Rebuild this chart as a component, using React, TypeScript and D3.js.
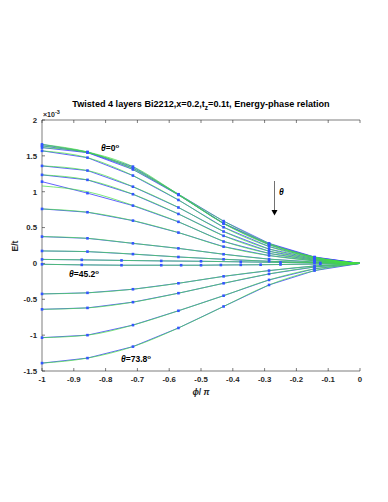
import React from "react";
import * as d3 from "d3";

const phi7 = [-1, -0.857, -0.714, -0.571, -0.429, -0.286, -0.143, 0];
const phi8 = [-1, -0.875, -0.75, -0.625, -0.5, -0.375, -0.25, -0.125, 0];
const phi16 = [-1, -0.875, -0.75, -0.625, -0.5625, -0.5, -0.4375, -0.375, -0.3125, -0.25, -0.125, 0];

const e00 = [1.66, 1.555, 1.35, 0.965, 0.59, 0.28, 0.09, 0];
const e01 = [1.64, 1.55, 1.33, 0.96, 0.56, 0.27, 0.085, 0];
const e02 = [1.615, 1.545, 1.31, 0.955, 0.555, 0.26, 0.08, 0];
const e03 = [1.57, 1.475, 1.225, 0.885, 0.505, 0.235, 0.075, 0];
const e04 = [1.36, 1.295, 1.07, 0.78, 0.445, 0.2, 0.065, 0];
const e05 = [1.235, 1.165, 0.965, 0.69, 0.385, 0.17, 0.055, 0];
const e06 = [1.14, 0.98, 0.806, 0.58, 0.305, 0.14, 0.045, 0];
const e06fit = [1.08, 1.0, 0.81, 0.58, 0.31, 0.14, 0.045, 0];
const e07 = [0.76, 0.714, 0.597, 0.43, 0.234, 0.11, 0.035, 0];
const e08 = [0.374, 0.35, 0.28, 0.21, 0.128, 0.06, 0.02, 0];
const e09 = [0.174, 0.165, 0.13, 0.09, 0.058, 0.03, 0.01, 0];
const e10 = [0.056, 0.05, 0.042, 0.035, 0.03, 0.022, 0.014, 0.006, 0];
const e11 = [-0.012, -0.02, -0.025, -0.025, -0.025, -0.025, -0.022, -0.02, -0.018, -0.015, -0.008, 0];
const e12 = [-0.425, -0.41, -0.36, -0.277, -0.18, -0.1, -0.035, 0];
const e13 = [-0.64, -0.62, -0.54, -0.415, -0.277, -0.146, -0.05, 0];
const e14 = [-1.035, -1.0, -0.86, -0.66, -0.45, -0.23, -0.075, 0];
const e15 = [-1.39, -1.32, -1.16, -0.9, -0.6, -0.3, -0.1, 0];

const xTicks = [-1, -0.9, -0.8, -0.7, -0.6, -0.5, -0.4, -0.3, -0.2, -0.1, 0];
const xTickLabels = ["-1", "-0.9", "-0.8", "-0.7", "-0.6", "-0.5", "-0.4", "-0.3", "-0.2", "-0.1", "0"];
const yTicks = [-1.5, -1, -0.5, 0, 0.5, 1, 1.5, 2];
const yTickLabels = ["-1.5", "-1", "-0.5", "0", "0.5", "1", "1.5", "2"];

type S = { x: number[]; y: number[]; fit?: number[] };
const series: S[] = [
  { x: phi7, y: e00 }, { x: phi7, y: e01 }, { x: phi7, y: e02 }, { x: phi7, y: e03 },
  { x: phi7, y: e04 }, { x: phi7, y: e05 }, { x: phi7, y: e06, fit: e06fit }, { x: phi7, y: e07 },
  { x: phi7, y: e08 }, { x: phi7, y: e09 }, { x: phi8, y: e10 }, { x: phi16, y: e11 },
  { x: phi7, y: e12 }, { x: phi7, y: e13 }, { x: phi7, y: e14 }, { x: phi7, y: e15 },
];

const FONT = "'Liberation Sans', Arial, sans-serif";
const AX = "#262626";

export default function App() {
  const x = d3.scaleLinear().domain([-1, 0]).range([42, 360]);
  const y = d3.scaleLinear().domain([-1.5, 2]).range([371, 120]);
  const lin = d3.line<[number, number]>().x((d) => x(d[0])).y((d) => y(d[1]));
  const smooth = d3.line<[number, number]>().x((d) => x(d[0])).y((d) => y(d[1])).curve(d3.curveMonotoneX);
  const pts = (s: S, vals: number[]) => s.x.map((v, i) => [v, vals[i]] as [number, number]);

  return (
    <svg width={388} height={502} style={{ position: "absolute", left: 0, top: 0, background: "#fff" }} fontFamily={FONT}>
      <rect width={388} height={502} fill="#fff" />
      {/* axes */}
      <line x1={42} x2={42} y1={120} y2={371} stroke={AX} strokeWidth={0.6} />
      <line x1={42} x2={360} y1={371} y2={371} stroke={AX} strokeWidth={0.6} />
      <line x1={42} x2={360} y1={120} y2={120} stroke={AX} strokeWidth={0.6} />
      {xTicks.map((t, i) => (
        <g key={"xt" + i}>
          <line x1={x(t)} x2={x(t)} y1={371} y2={368} stroke={AX} strokeWidth={0.6} />
          <line x1={x(t)} x2={x(t)} y1={120} y2={123} stroke={AX} strokeWidth={0.6} />
          <text x={x(t)} y={382} fontSize={7.8} fontWeight="bold" textAnchor="middle" fill={AX}>{xTickLabels[i]}</text>
        </g>
      ))}
      {yTicks.map((t, i) => (
        <g key={"yt" + i}>
          <line x1={42} x2={45} y1={y(t)} y2={y(t)} stroke={AX} strokeWidth={0.6} />
          <text x={37} y={y(t) + 2.8} fontSize={7.8} fontWeight="bold" textAnchor="end" fill={AX}>{yTickLabels[i]}</text>
        </g>
      ))}
      <text x={43} y={117} fontSize={7} fontWeight="bold" fill={AX}>×10<tspan fontSize={5.5} dy={-3}>-3</tspan></text>
      {/* series */}
      {series.map((s, i) => (
        <path key={"b" + i} d={lin(pts(s, s.y)) || ""} fill="none" stroke="#3a3aff" strokeWidth={0.8} />
      ))}
      {series.map((s, i) => (
        <path key={"g" + i} d={smooth(pts(s, s.fit || s.y)) || ""} fill="none" stroke="#44dd44" strokeWidth={0.7} />
      ))}
      {series.map((s, i) =>
        s.x.slice(0, -1).map((v, j) => (
          <rect key={"m" + i + "_" + j} x={x(v) - 1.3} y={y(s.y[j]) - 1.3} width={2.6} height={2.6} fill="#3355ff" />
        ))
      )}
      {/* annotations */}
      <text x={101} y={151} fontSize={8.5} fontWeight="bold" fill="#000"><tspan fontStyle="italic">θ</tspan>=0<tspan fontSize={6} dy={-3.5}>o</tspan></text>
      <text x={69} y={277} fontSize={8.5} fontWeight="bold" fill="#000"><tspan fontStyle="italic">θ</tspan>=45.2<tspan fontSize={6} dy={-3.5}>o</tspan></text>
      <text x={121} y={362} fontSize={8.5} fontWeight="bold" fill="#000"><tspan fontStyle="italic">θ</tspan>=73.8<tspan fontSize={6} dy={-3.5}>o</tspan></text>
      <line x1={274.5} x2={274.5} y1={181} y2={212} stroke="#333" strokeWidth={0.7} />
      <path d="M271.5,210 L277.5,210 L274.5,215.5 Z" fill="#000" />
      <text x={279} y={195} fontSize={8.5} fontWeight="bold" fontStyle="italic" fill="#000">θ</text>
      {/* titles */}
      <text x={201} y={107} fontSize={9.1} fontWeight="bold" textAnchor="middle" fill="#000">
        Twisted 4 layers Bi2212,x=0.2,t<tspan fontSize={6.5} dy={2.5}>z</tspan><tspan dy={-2.5}>=0.1t, Energy-phase relation</tspan>
      </text>
      <text x={201} y={395} fontSize={8.5} fontWeight="bold" textAnchor="middle" fill={AX}><tspan fontStyle="italic">ϕ</tspan>/ <tspan fontStyle="italic">π</tspan></text>
      <text transform="translate(18,246) rotate(-90)" fontSize={8.5} fontWeight="bold" textAnchor="middle" fill={AX}>E/t</text>
    </svg>
  );
}
